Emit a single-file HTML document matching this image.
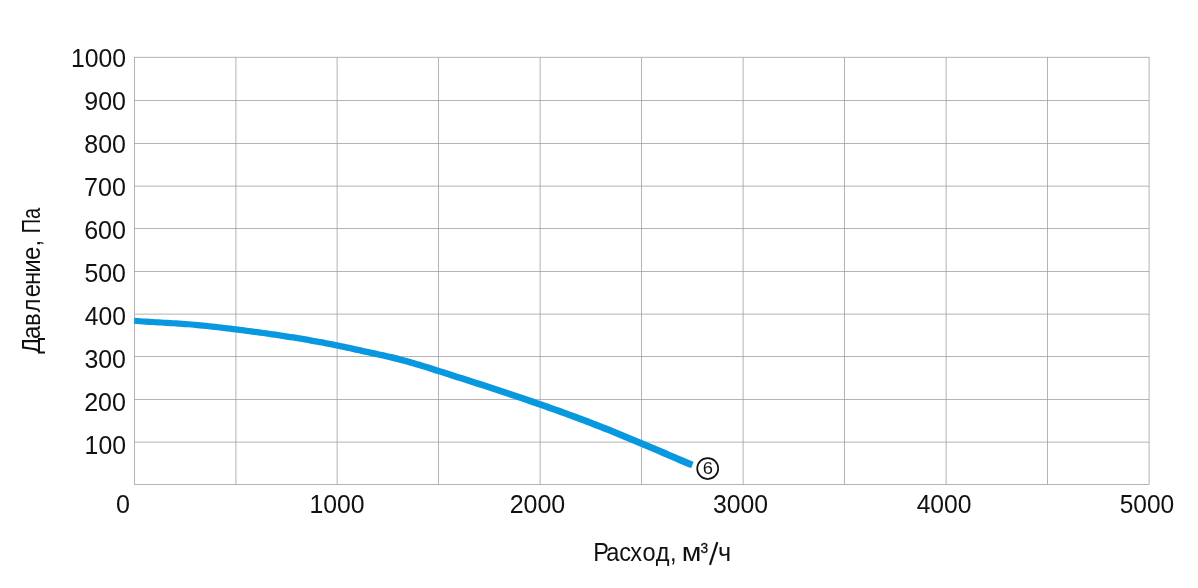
<!DOCTYPE html>
<html><head><meta charset="utf-8"><title>chart</title>
<style>html,body{margin:0;padding:0;background:#fff}svg{display:block;will-change:transform}text{font-family:"Liberation Sans",sans-serif;fill:#111}</style></head><body>
<svg width="1198" height="588" viewBox="0 0 1198 588">
<rect width="1198" height="588" fill="#fff"/>
<path d="M235.900 57.250V484.450M337.125 57.250V484.450M438.500 57.250V484.450M540.125 57.250V484.450M641.500 57.250V484.450M743.125 57.250V484.450M844.500 57.250V484.450M946.125 57.250V484.450M1047.500 57.250V484.450M134.500 100.500H1149.100M134.500 143.500H1149.100M134.500 186.125H1149.100M134.500 228.500H1149.100M134.500 271.500H1149.100M134.500 314.125H1149.100M134.500 356.500H1149.100M134.500 399.500H1149.100M134.500 442.125H1149.100" fill="none" stroke="#9b9b9b" stroke-width="0.75"/>
<rect x="134.500" y="57.250" width="1014.600" height="427.200" fill="none" stroke="#9b9b9b" stroke-width="0.75"/>
<text transform="translate(70.91 66.70) scale(0.9899 1.0000)" font-size="25.00">1000</text>
<text transform="translate(84.23 109.85) scale(1.0009 1.0000)" font-size="25.00">900</text>
<text transform="translate(84.31 152.65) scale(0.9988 1.0000)" font-size="25.00">800</text>
<text transform="translate(84.11 195.75) scale(1.0037 1.0000)" font-size="25.00">700</text>
<text transform="translate(84.13 239.00) scale(1.0034 1.0000)" font-size="25.00">600</text>
<text transform="translate(84.40 282.15) scale(0.9966 1.0000)" font-size="25.00">500</text>
<text transform="translate(84.83 325.15) scale(0.9860 1.0000)" font-size="25.00">400</text>
<text transform="translate(84.45 368.40) scale(0.9954 1.0000)" font-size="25.00">300</text>
<text transform="translate(84.14 411.05) scale(1.0031 1.0000)" font-size="25.00">200</text>
<text transform="translate(84.61 453.90) scale(0.9915 1.0000)" font-size="25.00">100</text>
<text transform="translate(116.12 512.65) scale(1.0041 1.0000)" font-size="25.00">0</text>
<text transform="translate(309.51 512.65) scale(0.9918 1.0000)" font-size="25.00">1000</text>
<text transform="translate(509.64 512.65) scale(1.0003 1.0000)" font-size="25.00">2000</text>
<text transform="translate(712.95 512.65) scale(0.9928 1.0000)" font-size="25.00">3000</text>
<text transform="translate(916.63 512.65) scale(0.9877 1.0000)" font-size="25.00">4000</text>
<text transform="translate(1119.72 512.65) scale(0.9807 1.0000)" font-size="25.00">5000</text>
<text transform="translate(0 560.90) scale(0.9385 1)" x="632.24 645.88 659.71 671.68 684.56 698.64 713.90" font-size="25.10">Расход,</text>
<text transform="translate(681.82 560.90) scale(1.1387 1.0000)" font-size="25.10">м</text>
<text stroke="#111" stroke-width="0.3" transform="translate(700.38 553.00) scale(0.9140 1.0000)" font-size="15.00">3</text>
<path d="M709.95 564.9L717.35 542.1" fill="none" stroke="#111" stroke-width="2.15"/>
<text transform="translate(717.99 560.90) scale(1.0072 1.0000)" font-size="25.10">ч</text>
<text transform="translate(40.45 353.50) rotate(-90) scale(0.9542 1)" x="-0.34 15.28 28.95 43.05 58.86 71.72 84.59 97.90 112.27" font-size="25.10">Давление,</text>
<text transform="translate(40.45 353.50) rotate(-90) scale(0.7988 1)" x="150.69 168.30" font-size="25.10">Па</text>
<path d="M133.96 323.84 L136.97 324.07 L139.98 324.30 L142.99 324.51 L146.00 324.71 L149.01 324.90 L152.02 325.09 L155.02 325.27 L158.02 325.44 L161.03 325.61 L164.02 325.79 L167.02 325.96 L170.02 326.14 L173.01 326.32 L176.01 326.51 L179.00 326.70 L181.99 326.91 L184.97 327.13 L187.96 327.35 L190.94 327.60 L193.93 327.86 L196.91 328.13 L199.90 328.41 L202.89 328.71 L205.88 329.02 L208.87 329.34 L211.86 329.67 L214.85 330.01 L217.84 330.36 L220.83 330.71 L223.83 331.07 L226.82 331.44 L229.82 331.81 L232.82 332.18 L235.81 332.55 L238.81 332.93 L241.80 333.32 L244.80 333.70 L247.79 334.09 L250.79 334.49 L253.78 334.89 L256.78 335.30 L259.77 335.71 L262.77 336.12 L265.76 336.54 L268.76 336.97 L271.75 337.40 L274.74 337.84 L277.74 338.28 L280.73 338.73 L283.72 339.19 L286.71 339.65 L289.71 340.13 L292.70 340.61 L295.69 341.09 L298.68 341.59 L301.67 342.09 L304.66 342.60 L307.66 343.12 L310.65 343.64 L313.64 344.18 L316.63 344.72 L319.62 345.28 L322.61 345.84 L325.60 346.41 L328.59 346.99 L331.58 347.58 L334.57 348.18 L337.56 348.79 L340.55 349.42 L343.54 350.05 L346.52 350.69 L349.51 351.34 L352.50 352.01 L355.50 352.68 L358.50 353.35 L361.50 354.03 L364.50 354.70 L367.51 355.37 L370.52 356.03 L373.53 356.67 L376.53 357.32 L379.52 357.96 L382.51 358.61 L385.49 359.27 L388.47 359.95 L391.44 360.65 L394.42 361.38 L397.39 362.14 L400.37 362.92 L403.35 363.73 L406.33 364.55 L409.31 365.40 L412.29 366.26 L415.28 367.14 L418.26 368.04 L421.25 368.95 L424.24 369.87 L427.23 370.80 L430.22 371.74 L433.21 372.69 L436.21 373.65 L439.20 374.61 L442.20 375.57 L445.20 376.54 L448.20 377.51 L451.20 378.47 L454.20 379.44 L457.20 380.40 L460.20 381.36 L463.20 382.33 L466.20 383.29 L469.20 384.25 L472.19 385.22 L475.19 386.18 L478.19 387.15 L481.18 388.12 L484.18 389.09 L487.18 390.07 L490.17 391.05 L493.17 392.03 L496.16 393.02 L499.16 394.01 L502.15 395.01 L505.15 396.01 L508.15 397.01 L511.14 398.02 L514.14 399.03 L517.13 400.04 L520.13 401.06 L523.12 402.08 L526.12 403.11 L529.12 404.14 L532.11 405.17 L535.11 406.21 L538.10 407.25 L541.10 408.30 L544.09 409.35 L547.09 410.40 L550.08 411.46 L553.08 412.53 L556.07 413.60 L559.06 414.67 L562.06 415.76 L565.05 416.84 L568.04 417.94 L571.04 419.04 L574.03 420.15 L577.02 421.27 L580.01 422.39 L583.01 423.52 L586.00 424.66 L588.99 425.81 L591.98 426.96 L594.97 428.13 L597.96 429.30 L600.96 430.48 L603.95 431.67 L606.94 432.86 L609.93 434.07 L612.93 435.28 L615.92 436.49 L618.91 437.72 L621.91 438.95 L624.90 440.18 L627.90 441.42 L630.89 442.67 L633.89 443.92 L636.88 445.17 L639.88 446.44 L642.87 447.70 L645.87 448.97 L648.86 450.25 L651.86 451.52 L654.85 452.81 L657.85 454.09 L660.85 455.38 L663.84 456.67 L666.84 457.96 L669.84 459.26 L672.84 460.55 L675.85 461.85 L678.85 463.14 L681.87 464.41 L684.88 465.67 L687.91 466.91 L690.92 468.12 L691.13 468.21 L693.67 461.79 L693.48 461.71 L690.49 460.52 L687.52 459.30 L684.53 458.06 L681.55 456.80 L678.55 455.53 L675.56 454.24 L672.56 452.95 L669.56 451.66 L666.56 450.37 L663.55 449.08 L660.55 447.79 L657.55 446.51 L654.54 445.23 L651.54 443.95 L648.53 442.68 L645.53 441.41 L642.52 440.14 L639.52 438.88 L636.51 437.63 L633.51 436.38 L630.50 435.13 L627.50 433.89 L624.49 432.65 L621.49 431.42 L618.48 430.20 L615.47 428.98 L612.47 427.77 L609.46 426.57 L606.45 425.37 L603.44 424.18 L600.44 423.00 L597.43 421.83 L594.42 420.66 L591.41 419.50 L588.40 418.35 L585.39 417.21 L582.39 416.08 L579.38 414.96 L576.37 413.84 L573.36 412.73 L570.36 411.63 L567.35 410.53 L564.34 409.44 L561.34 408.36 L558.33 407.28 L555.32 406.21 L552.32 405.15 L549.31 404.09 L546.31 403.04 L543.30 401.99 L540.30 400.94 L537.29 399.90 L534.29 398.87 L531.28 397.83 L528.28 396.81 L525.28 395.78 L522.27 394.76 L519.27 393.74 L516.26 392.73 L513.26 391.72 L510.25 390.72 L507.25 389.71 L504.25 388.72 L501.24 387.72 L498.24 386.73 L495.23 385.74 L492.23 384.76 L489.22 383.78 L486.22 382.81 L483.22 381.84 L480.21 380.87 L477.21 379.91 L474.21 378.95 L471.20 377.99 L468.20 377.03 L465.20 376.07 L462.20 375.11 L459.20 374.15 L456.20 373.19 L453.20 372.23 L450.20 371.27 L447.20 370.31 L444.20 369.35 L441.20 368.38 L438.19 367.42 L435.19 366.47 L432.18 365.52 L429.17 364.58 L426.16 363.64 L423.15 362.72 L420.14 361.81 L417.12 360.91 L414.11 360.02 L411.09 359.15 L408.07 358.30 L405.05 357.47 L402.03 356.66 L399.01 355.87 L395.98 355.10 L392.96 354.36 L389.93 353.65 L386.91 352.96 L383.89 352.30 L380.88 351.65 L377.87 351.01 L374.87 350.37 L371.88 349.73 L368.89 349.08 L365.90 348.43 L362.90 347.76 L359.90 347.09 L356.90 346.41 L353.90 345.74 L350.89 345.08 L347.88 344.43 L344.86 343.79 L341.85 343.15 L338.84 342.53 L335.83 341.92 L332.82 341.32 L329.81 340.73 L326.80 340.15 L323.79 339.58 L320.78 339.02 L317.77 338.46 L314.76 337.92 L311.75 337.39 L308.74 336.86 L305.74 336.34 L302.73 335.83 L299.72 335.33 L296.71 334.84 L293.70 334.36 L290.69 333.88 L287.69 333.41 L284.68 332.95 L281.67 332.49 L278.66 332.04 L275.66 331.60 L272.65 331.17 L269.64 330.74 L266.64 330.31 L263.63 329.90 L260.63 329.48 L257.62 329.08 L254.62 328.67 L251.61 328.28 L248.61 327.88 L245.60 327.50 L242.60 327.11 L239.59 326.73 L236.59 326.36 L233.58 325.98 L230.58 325.62 L227.58 325.25 L224.57 324.89 L221.57 324.53 L218.56 324.18 L215.55 323.84 L212.54 323.50 L209.53 323.17 L206.52 322.85 L203.51 322.55 L200.50 322.25 L197.49 321.97 L194.47 321.69 L191.46 321.44 L188.44 321.20 L185.43 320.97 L182.41 320.76 L179.40 320.55 L176.39 320.36 L173.39 320.18 L170.38 320.00 L167.38 319.83 L164.38 319.66 L161.37 319.49 L158.38 319.32 L155.38 319.15 L152.38 318.97 L149.39 318.79 L146.40 318.60 L143.41 318.41 L140.42 318.20 L137.43 317.99 L134.44 317.75 Z" fill="#0898df"/>
<circle cx="707.7" cy="468.55" r="10.5" fill="#fff" stroke="#111" stroke-width="1.7"/>
<text transform="translate(702.76 474.25) scale(1.0965 1.0000)" font-size="16.80">6</text>
</svg></body></html>
